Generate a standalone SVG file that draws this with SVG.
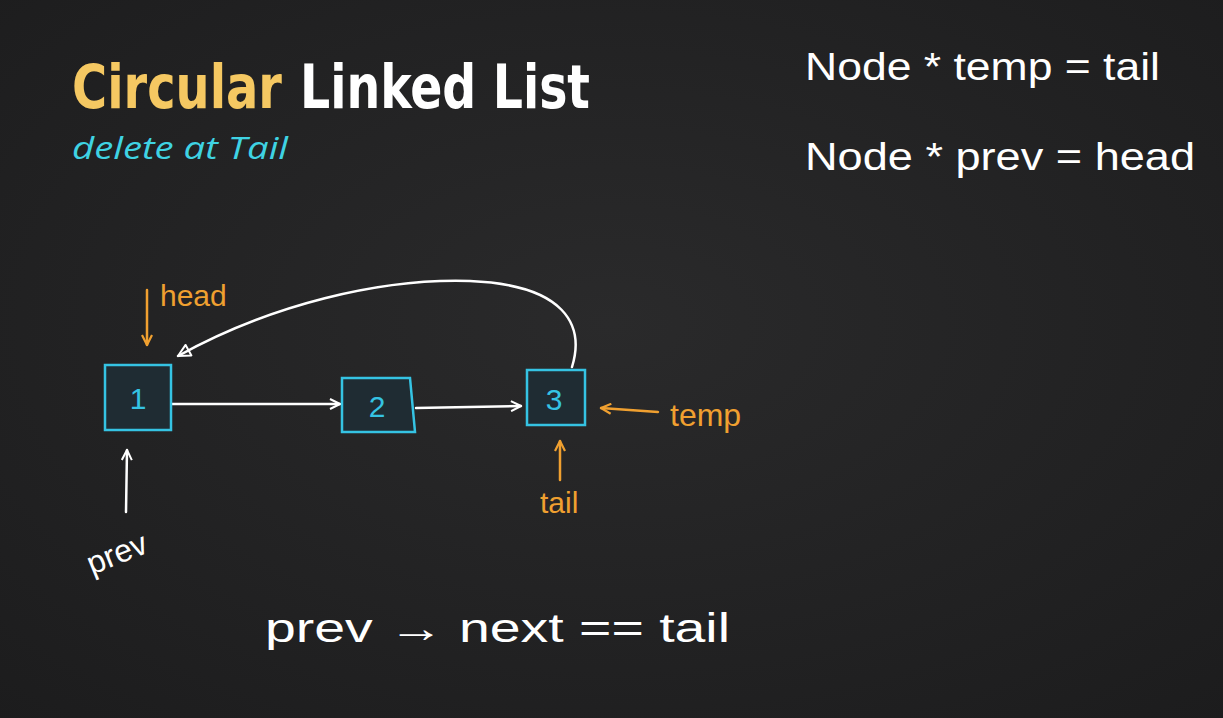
<svg xmlns="http://www.w3.org/2000/svg" width="1223" height="718" viewBox="0 0 1223 718">
<defs>
<radialGradient id="bg" cx="0.5" cy="0.45" r="0.75">
<stop offset="0" stop-color="#2a2a2b"/>
<stop offset="1" stop-color="#1c1c1d"/>
</radialGradient>
<marker id="wa" viewBox="0 0 12 12" refX="11" refY="6" markerWidth="12" markerHeight="12" markerUnits="userSpaceOnUse" orient="auto">
<path d="M1,1 L11,6 L1,11" fill="none" stroke="#ffffff" stroke-width="2" stroke-linejoin="round"/>
</marker>
<marker id="wb" viewBox="0 0 16 16" refX="14" refY="8" markerWidth="16" markerHeight="16" markerUnits="userSpaceOnUse" orient="auto">
<path d="M2,2 L14,8 L2,14 Z" fill="none" stroke="#ffffff" stroke-width="2" stroke-linejoin="round"/>
</marker>
<marker id="oa" viewBox="0 0 12 12" refX="11" refY="6" markerWidth="12" markerHeight="12" markerUnits="userSpaceOnUse" orient="auto">
<path d="M1,1 L11,6 L1,11" fill="none" stroke="#f0a030" stroke-width="2.2" stroke-linejoin="round"/>
</marker>
<style>
.title{font-family:"DejaVu Sans Condensed","DejaVu Sans",sans-serif;font-weight:bold;font-size:60px}
.sub{font-family:"Open Sans","Liberation Sans",sans-serif;font-style:italic;font-size:31px;fill:#3fd3e3}
.hw{font-family:"Liberation Sans",sans-serif;fill:#ffffff}
.or{font-family:"Liberation Sans",sans-serif;fill:#f0a030}
.box{fill:#1f2c33;stroke:#35c3e3;stroke-width:2.5}
.num{font-family:"Liberation Sans",sans-serif;font-size:30px;fill:#35c3e3;text-anchor:middle}
.wl{fill:none;stroke:#ffffff;stroke-width:2.5;stroke-linecap:round}
.ol{fill:none;stroke:#f0a030;stroke-width:2.5;stroke-linecap:round}
</style>
</defs>
<rect width="1223" height="718" fill="url(#bg)"/>

<g id="title">
<text x="72" y="108" class="title" fill="#f5c862" textLength="210" lengthAdjust="spacingAndGlyphs">Circular</text>
<text x="300" y="108" class="title" fill="#ffffff" textLength="290" lengthAdjust="spacingAndGlyphs">Linked List</text>
<text x="72" y="159" class="sub" textLength="216" lengthAdjust="spacingAndGlyphs">delete at Tail</text>
</g>

<g id="code">
<text x="805" y="80" class="hw" font-size="38" textLength="355" lengthAdjust="spacingAndGlyphs">Node * temp = tail</text>
<text x="805" y="170" class="hw" font-size="38" textLength="390" lengthAdjust="spacingAndGlyphs">Node * prev = head</text>
<text x="265" y="642" class="hw" font-size="40" textLength="465" lengthAdjust="spacingAndGlyphs">prev → next == tail</text>
</g>

<g id="connectors">
<path class="wl" d="M172,404 L340,404" marker-end="url(#wa)"/>
<path class="wl" d="M416,408 L521,406" marker-end="url(#wa)"/>
<path class="wl" d="M572,367 C585,325 565,285 470,281 C380,278 270,305 178,356" marker-end="url(#wb)"/>
</g>

<g id="node1">
<rect class="box" x="105" y="365" width="66" height="65"/>
<text x="138" y="409" class="num">1</text>
</g>
<g id="node2">
<path class="box" d="M342,378 L410,378 L415,432 L342,432 Z"/>
<text x="377" y="417" class="num">2</text>
</g>
<g id="node3">
<rect class="box" x="527" y="370" width="58" height="55"/>
<text x="554" y="410" class="num">3</text>
</g>

<g id="head">
<text x="160" y="306" class="or" font-size="30">head</text>
<path class="ol" d="M147,290 L147,345" marker-end="url(#oa)"/>
</g>
<g id="temp">
<text x="670" y="426" class="or" font-size="32">temp</text>
<path class="ol" d="M658,412 L601,408" marker-end="url(#oa)"/>
</g>
<g id="tail">
<text x="540" y="513" class="or" font-size="30">tail</text>
<path class="ol" d="M560,480 L560,441" marker-end="url(#oa)"/>
</g>
<g id="prev">
<path class="wl" d="M126,512 L127,450" marker-end="url(#wa)"/>
<text x="92" y="575" class="hw" font-size="32" transform="rotate(-22 92 575)">prev</text>
</g>
</svg>
